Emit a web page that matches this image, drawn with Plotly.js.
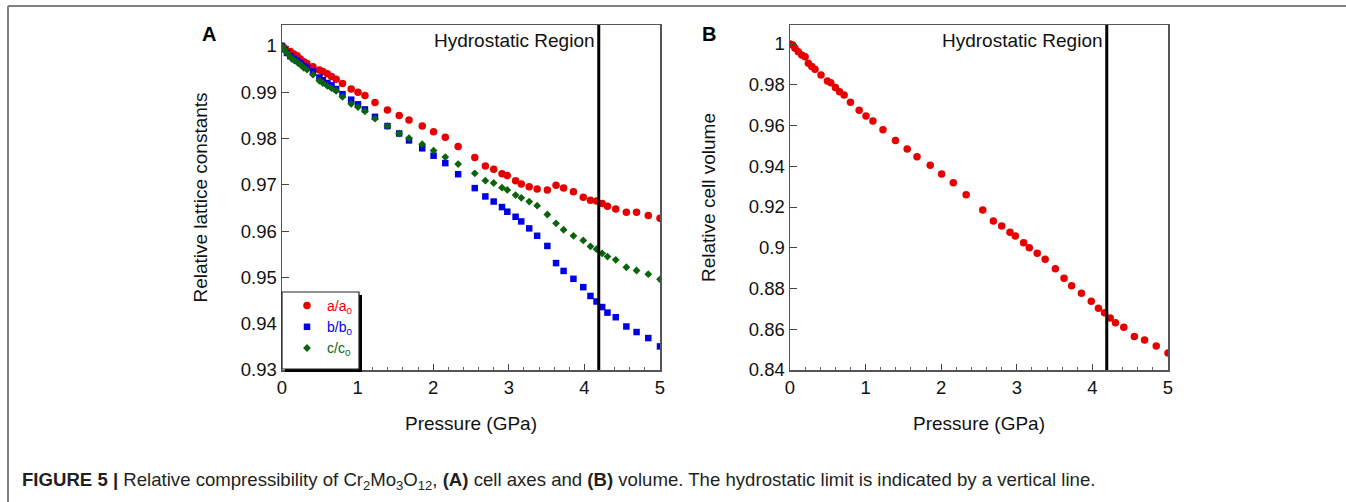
<!DOCTYPE html>
<html>
<head>
<meta charset="utf-8">
<script src="https://cdn.plot.ly/plotly-3.0.1.min.js"></script>
<style>
  html, body { margin: 0; padding: 0; background: #fff; }
  #fig { width: 1346px; height: 502px; }
</style>
</head>
<body>
<div id="fig"></div>
<script>
// Pressure steps of the compression run (GPa)
const pressure = [0, 0.035, 0.066, 0.11, 0.155, 0.20, 0.243, 0.288, 0.33, 0.41,
  0.495, 0.54, 0.60, 0.655, 0.716, 0.80, 0.915, 1.005, 1.097, 1.23,
  1.395, 1.55, 1.68, 1.855, 2.005, 2.16, 2.33, 2.55, 2.69, 2.80,
  2.91, 2.98, 3.09, 3.165, 3.27, 3.375, 3.51, 3.625, 3.725, 3.855,
  3.985, 4.08, 4.16, 4.235, 4.305, 4.415, 4.555, 4.69, 4.845, 5.00];

// Relative lattice constants
const aRel = [1.0, 0.9995, 0.9990, 0.9988, 0.9983, 0.9979, 0.9972, 0.9966, 0.9962, 0.9955,
  0.9948, 0.9945, 0.9940, 0.9934, 0.9928, 0.9919, 0.9907, 0.9900, 0.9893, 0.9878,
  0.9862, 0.9850, 0.9840, 0.9827, 0.9815, 0.9803, 0.9783, 0.9759, 0.9741, 0.9734,
  0.9724, 0.9720, 0.9709, 0.9702, 0.9696, 0.9691, 0.9689, 0.9699, 0.9693, 0.9685,
  0.9673, 0.9667, 0.9665, 0.9660, 0.9654, 0.9648, 0.9641, 0.9641, 0.9634, 0.9628];
const bRel = [1.0, 0.9993, 0.9985, 0.9978, 0.9972, 0.9968, 0.9963, 0.9957, 0.9953, 0.9945,
  0.9932, 0.9926, 0.9920, 0.9915, 0.9907, 0.9896, 0.9884, 0.9874, 0.9863, 0.9847,
  0.9827, 0.9811, 0.9796, 0.9779, 0.9763, 0.9747, 0.9723, 0.9693, 0.9675, 0.9664,
  0.9652, 0.9642, 0.9631, 0.9621, 0.9606, 0.9590, 0.9568, 0.9531, 0.9514, 0.9497,
  0.9479, 0.9460, 0.9448, 0.9436, 0.9424, 0.9414, 0.9394, 0.9382, 0.9369, 0.9351];
const cRel = [1.0, 0.9992, 0.9985, 0.9976, 0.9970, 0.9965, 0.9960, 0.9953, 0.9949, 0.9938,
  0.9925, 0.9920, 0.9914, 0.9909, 0.9903, 0.9890, 0.9875, 0.9868, 0.9859, 0.9843,
  0.9827, 0.9811, 0.9801, 0.9788, 0.9774, 0.9760, 0.9745, 0.9725, 0.9709, 0.9704,
  0.9694, 0.9689, 0.9678, 0.9672, 0.9664, 0.9655, 0.9636, 0.9617, 0.9603, 0.9590,
  0.9580, 0.9567, 0.9561, 0.9552, 0.9545, 0.9538, 0.9522, 0.9515, 0.9507, 0.9496];

// Relative cell volume
const vRel = [1.0, 0.9995, 0.9979, 0.9962, 0.9946, 0.9938, 0.9905, 0.9889, 0.9876, 0.9848,
  0.9818, 0.9810, 0.9786, 0.9766, 0.9750, 0.9714, 0.9675, 0.9647, 0.9622, 0.9579,
  0.9527, 0.9485, 0.9447, 0.9405, 0.9362, 0.9319, 0.9260, 0.9185, 0.9131, 0.9107,
  0.9076, 0.9058, 0.9025, 0.9000, 0.8973, 0.8943, 0.8897, 0.8850, 0.8814, 0.8777,
  0.8737, 0.8703, 0.8681, 0.8655, 0.8632, 0.8610, 0.8564, 0.8547, 0.8518, 0.8484];

// Hydrostatic limit (GPa)
const hydroLimit = 4.19;

// Tick labels
const xTicks = [0, 1, 2, 3, 4, 5];
const xTickText = ['0', '1', '2', '3', '4', '5'];
const yTicksA = [0.93, 0.94, 0.95, 0.96, 0.97, 0.98, 0.99, 1.0];
const yTickTextA = ['0.93', '0.94', '0.95', '0.96', '0.97', '0.98', '0.99', '1'];
const yTicksB = [0.84, 0.86, 0.88, 0.90, 0.92, 0.94, 0.96, 0.98, 1.0];
const yTickTextB = ['0.84', '0.86', '0.88', '0.9', '0.92', '0.94', '0.96', '0.98', '1'];

const W = 1346, H = 502;
const px = x => x / W;
const py = y => 1 - y / H;

const FONT = 'Liberation Sans, Arial, Helvetica, sans-serif';
const RED = '#e60000', BLUE = '#0000e6', GREEN = '#0a640a';

const traces = [
  { x: pressure, y: aRel, type: 'scatter', mode: 'markers', xaxis: 'x', yaxis: 'y',
    name: '<span style="color:' + RED + '">a/a<sub>0</sub></span>',
    marker: { symbol: 'circle', size: 7.5, color: RED } },
  { x: pressure, y: bRel, type: 'scatter', mode: 'markers', xaxis: 'x', yaxis: 'y',
    name: '<span style="color:' + BLUE + '">b/b<sub>0</sub></span>',
    marker: { symbol: 'square', size: 6.5, color: BLUE } },
  { x: pressure, y: cRel, type: 'scatter', mode: 'markers', xaxis: 'x', yaxis: 'y',
    name: '<span style="color:' + GREEN + '">c/c<sub>0</sub></span>',
    marker: { symbol: 'diamond', size: 6, color: GREEN } },
  { x: pressure, y: vRel, type: 'scatter', mode: 'markers', xaxis: 'x2', yaxis: 'y2',
    showlegend: false, marker: { symbol: 'circle', size: 7.5, color: RED } }
];

function xAxis(domain) {
  return {
    domain: domain, range: [0, 5], tickvals: xTicks, ticktext: xTickText,
    ticks: 'inside', ticklen: 6, tickwidth: 1, tickcolor: '#444',
    minor: { dtick: 0.2, ticks: 'inside', ticklen: 3, tickwidth: 1, tickcolor: '#666' },
    showline: true, linecolor: '#555', linewidth: 1.5, mirror: true,
    showgrid: false, zeroline: false, fixedrange: true,
    tickfont: { family: FONT, size: 18.5, color: '#111' },
    title: { text: 'Pressure (GPa)', font: { family: FONT, size: 19, color: '#111' }, standoff: 20 }
  };
}
function yAxis(range, vals, text, title) {
  return {
    domain: [py(370), py(25)], range: range, tickvals: vals, ticktext: text,
    ticks: 'inside', ticklen: 7, tickwidth: 1, tickcolor: '#444',
    showline: true, linecolor: '#555', linewidth: 1.5, mirror: true,
    showgrid: false, zeroline: false, fixedrange: true,
    tickfont: { family: FONT, size: 18.5, color: '#111' },
    title: { text: title, font: { family: FONT, size: 19, color: '#111' }, standoff: 28 }
  };
}

const layout = {
  width: W, height: H,
  margin: { l: 0, r: 0, t: 0, b: 0 },
  paper_bgcolor: '#fff', plot_bgcolor: '#fff',
  font: { family: FONT },
  xaxis: xAxis([px(282), px(660)]),
  yaxis: yAxis([0.93, 1.00454], yTicksA, yTickTextA, 'Relative lattice constants'),
  xaxis2: Object.assign(xAxis([px(790), px(1168)]), { anchor: 'y2' }),
  yaxis2: Object.assign(yAxis([0.84, 1.00933], yTicksB, yTickTextB, 'Relative cell volume'), { anchor: 'x2' }),
  showlegend: true,
  legend: {
    x: px(283), y: py(290), xanchor: 'left', yanchor: 'top',
    bgcolor: 'rgba(0,0,0,0)', borderwidth: 0,
    font: { family: FONT, size: 14 }, indentation: 4, tracegroupgap: 0
  },
  shapes: [
    // figure frame
    { type: 'line', xref: 'paper', yref: 'paper', x0: px(8), x1: 1, y0: py(6), y1: py(6),
      line: { color: '#808080', width: 2 } },
    { type: 'line', xref: 'paper', yref: 'paper', x0: px(8), x1: px(8), y0: py(6), y1: 0,
      line: { color: '#808080', width: 2 } },
    // legend box shadow and frame
    { type: 'rect', xref: 'paper', yref: 'paper', x0: px(285), x1: px(362), y0: py(372), y1: py(295),
      fillcolor: '#000', line: { width: 0 }, layer: 'above' },
    { type: 'rect', xref: 'paper', yref: 'paper', x0: px(282), x1: px(359), y0: py(369), y1: py(292),
      fillcolor: '#fff', line: { color: '#222', width: 1.2 }, layer: 'above' },
    // hydrostatic limit
    { type: 'line', xref: 'x', yref: 'y domain', x0: hydroLimit, x1: hydroLimit, y0: 0, y1: 1,
      line: { color: '#000', width: 3 } },
    { type: 'line', xref: 'x2', yref: 'y2 domain', x0: hydroLimit, x1: hydroLimit, y0: 0, y1: 1,
      line: { color: '#000', width: 3 } }
  ],
  annotations: [
    { text: '<b>A</b>', xref: 'paper', yref: 'paper', x: px(200), y: py(34), yanchor: 'middle',
      showarrow: false, font: { family: FONT, size: 20, color: '#000' } },
    { text: '<b>B</b>', xref: 'paper', yref: 'paper', x: px(709), y: py(34), yanchor: 'middle',
      showarrow: false, font: { family: FONT, size: 20, color: '#000' } },
    { text: 'Hydrostatic Region', xref: 'x', yref: 'paper', x: hydroLimit, y: py(40), yanchor: 'middle',
      xanchor: 'right', xshift: -2, showarrow: false, font: { family: FONT, size: 19, color: '#111' } },
    { text: 'Hydrostatic Region', xref: 'x2', yref: 'paper', x: hydroLimit, y: py(40), yanchor: 'middle',
      xanchor: 'right', xshift: -2, showarrow: false, font: { family: FONT, size: 19, color: '#111' } },
    { text: '<b>FIGURE 5 |</b> Relative compressibility of Cr<sub>2</sub>Mo<sub>3</sub>O<sub>12</sub>, <b>(A)</b> cell axes and <b>(B)</b> volume. The hydrostatic limit is indicated by a vertical line.',
      xref: 'paper', yref: 'paper', x: px(20), y: py(481), xanchor: 'left', yanchor: 'middle',
      showarrow: false, font: { family: FONT, size: 18.6, color: '#231f20' } }
  ]
};

Plotly.newPlot('fig', traces, layout, { staticPlot: true, displayModeBar: false });
</script>
</body>
</html>
